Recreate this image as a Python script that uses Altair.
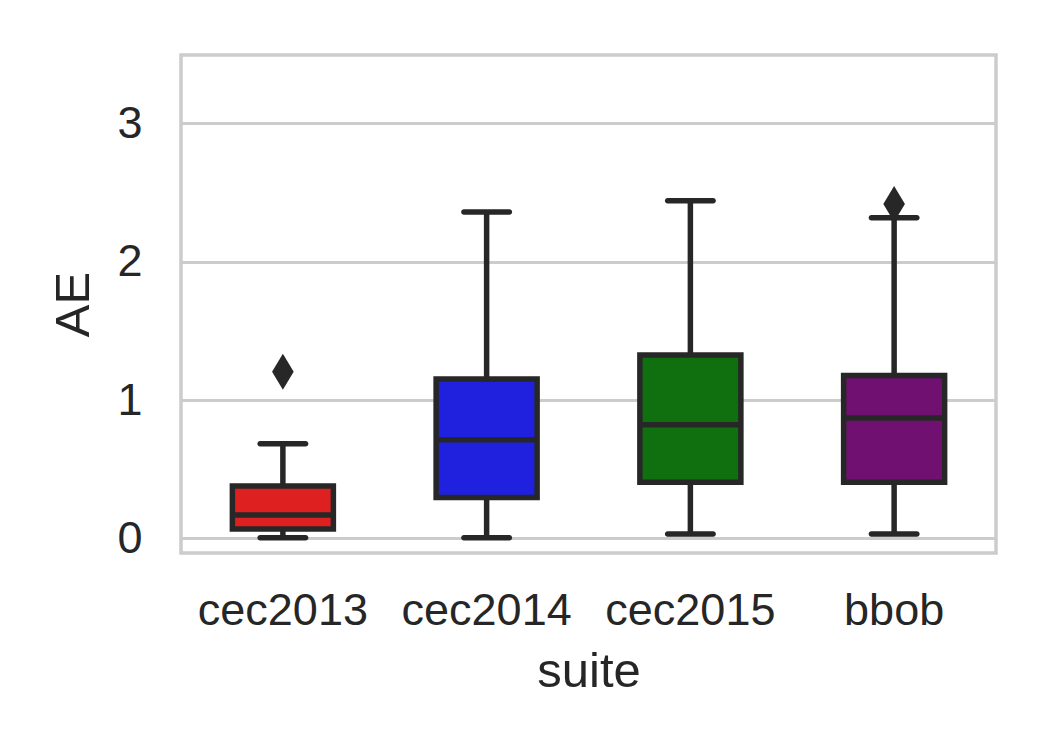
import altair as alt
import pandas as pd

suites = ["cec2013", "cec2014", "cec2015", "bbob"]
whisker_low = [0.004, 0.004, 0.031, 0.031]
q1 = [0.068, 0.296, 0.405, 0.405]
median = [0.168, 0.712, 0.822, 0.870]
q3 = [0.379, 1.152, 1.325, 1.178]
whisker_high = [0.684, 2.359, 2.441, 2.318]
colors = ["#df2020", "#2020df", "#107010", "#701070"]

outlier_suite = ["cec2013", "bbob"]
outlier_value = [1.205, 2.417]

df = pd.DataFrame({
    "suite": suites, "low": whisker_low, "q1": q1, "median": median,
    "q3": q3, "high": whisker_high, "color": colors,
})
odf = pd.DataFrame({"suite": outlier_suite, "AE": outlier_value})

LINE = "#272727"
LW = 5.5
FONT = "Liberation Sans"

x = alt.X("suite:N", sort=suites, title="suite",
          scale=alt.Scale(paddingInner=0, paddingOuter=0),
          axis=alt.Axis(labelAngle=0, ticks=False, domain=False, grid=False,
                        labelFontSize=45, labelPadding=35, titleFontSize=49,
                        titlePadding=14, labelColor="#262626", titleColor="#262626",
                        labelFont=FONT, titleFont=FONT, titleFontWeight="normal"))
yscale = alt.Scale(domain=[-0.106, 3.495], nice=False, zero=False)
yaxis = alt.Axis(values=[0, 1, 2, 3], format="d", ticks=False, domain=False, grid=True,
                 gridColor="#cccccc", gridWidth=3, labelFontSize=45, labelPadding=39,
                 titleFontSize=49, titlePadding=18, labelColor="#262626",
                 titleColor="#262626", labelFont=FONT, titleFont=FONT,
                 titleFontWeight="normal")

base = alt.Chart(df)

whisk = base.mark_rule(color=LINE, strokeWidth=LW).encode(
    x=x, y=alt.Y("low:Q", scale=yscale, axis=yaxis, title="AE"), y2="high:Q")

box = base.mark_bar(size=101, stroke=LINE, strokeWidth=LW).encode(
    x=x, y=alt.Y("q1:Q", scale=yscale, axis=yaxis, title="AE"), y2="q3:Q",
    color=alt.Color("color:N", scale=None, legend=None))

med = base.mark_tick(color=LINE, size=101, thickness=LW, opacity=1).encode(
    x=x, y=alt.Y("median:Q", scale=yscale))

cap_low = base.mark_tick(color=LINE, size=51, thickness=LW, cornerRadius=2.75, opacity=1).encode(
    x=x, y=alt.Y("low:Q", scale=yscale))
cap_high = base.mark_tick(color=LINE, size=51, thickness=LW, cornerRadius=2.75, opacity=1).encode(
    x=x, y=alt.Y("high:Q", scale=yscale))

outl = alt.Chart(odf).mark_point(
    shape="M0,-1L0.6,0L0,1L-0.6,0Z", filled=True, color=LINE, size=1296, opacity=1
).encode(x=x, y=alt.Y("AE:Q", scale=yscale))

chart = alt.layer(whisk, box, med, cap_low, outl, cap_high).properties(
    width=815, height=498,
    padding={"left": 173, "top": 47, "right": 30, "bottom": 180},
    autosize="none",
    background="white",
).configure_view(stroke="#cccccc", strokeWidth=3.5)

chart.save("out.html", embed_options={"renderer": "svg", "actions": False})
